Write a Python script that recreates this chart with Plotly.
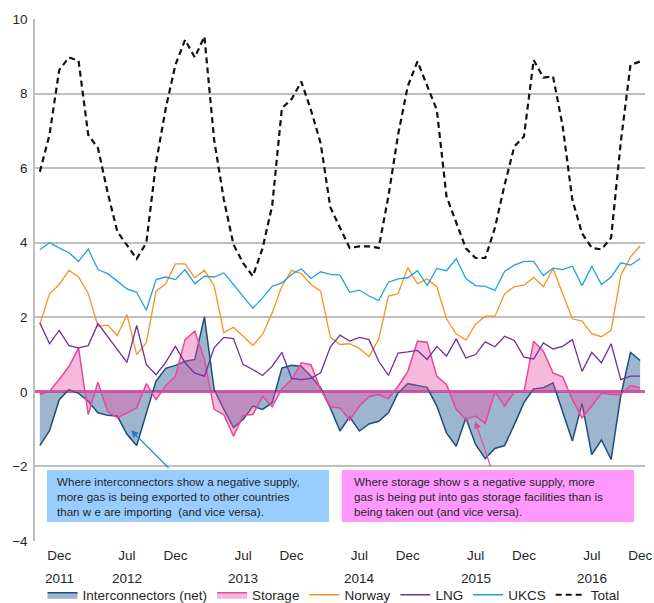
import pandas as pd
import plotly.graph_objects as go

months = [d.strftime("%b %Y") for d in pd.date_range("2011-10-01", "2016-12-01", freq="MS")]

interconnectors = [-1.44, -1.04, -0.21, 0.06, -0.04, -0.25, -0.56, -0.63, -0.65, -1.14,
                   -1.44, -0.56, 0.29, 0.63, 0.71, 0.82, 0.87, 2.01, 0.06, -0.47,
                   -0.96, -0.74, -0.38, -0.47, -0.29, 0.64, 0.71, 0.69, 0.42, 0.11,
                   -0.43, -1.05, -0.67, -1.05, -0.86, -0.79, -0.56, -0.03, 0.22, 0.17,
                   0.12, -0.38, -1.10, -1.46, -0.70, -1.41, -1.79, -1.52, -1.44, -0.88,
                   -0.29, 0.08, 0.11, 0.24, -0.56, -1.32, -0.31, -1.68, -1.29, -1.81,
                   -0.10, 1.06, 0.84]
storage = [-0.07, 0.02, 0.33, 0.68, 1.18, -0.61, 0.26, -0.52, -0.70, -0.56,
           -0.43, 0.22, -0.21, 0.17, 0.42, 1.40, 1.63, 0.87, -0.47, -0.61,
           -1.19, -0.63, -0.61, -0.12, -0.40, 0.08, 0.33, 0.78, 0.73, 0.06,
           -0.40, -0.43, -0.76, -0.38, -0.13, -0.07, -0.18, 0.15, 0.55, 1.36,
           1.33, 0.42, 0.20, -0.47, -0.74, -0.65, -0.85, 0.00, -0.38, 0.00,
           0.00, 1.36, 1.09, 0.51, 0.40, -0.21, -0.70, -0.38, -0.04, -0.07,
           -0.07, 0.17, 0.11]
norway = [1.81, 2.63, 2.88, 3.26, 3.08, 2.64, 1.76, 1.79, 1.51, 2.07,
          1.00, 1.32, 2.70, 2.90, 3.43, 3.43, 3.06, 3.26, 2.85, 1.59,
          1.73, 1.49, 1.25, 1.54, 2.12, 2.83, 3.26, 3.17, 2.88, 2.70,
          1.47, 1.27, 1.29, 1.16, 0.95, 1.41, 2.57, 2.63, 3.33, 2.90,
          3.03, 2.82, 1.96, 1.56, 1.39, 1.81, 2.03, 2.03, 2.63, 2.82,
          2.86, 3.07, 2.82, 3.30, 2.61, 1.96, 1.90, 1.56, 1.48, 1.65,
          3.12, 3.62, 3.92]
lng = [1.85, 1.29, 1.65, 1.24, 1.18, 1.24, 1.83, 1.49, 1.15, 0.79,
       1.78, 0.73, 0.46, 0.79, 1.22, 0.78, 0.50, 0.42, 1.18, 1.46,
       1.43, 0.73, 0.60, 0.44, 0.69, 1.06, 0.36, 0.33, 0.36, 0.51,
       1.20, 1.52, 1.36, 1.46, 1.40, 0.82, 0.44, 1.04, 1.07, 1.11,
       0.87, 1.22, 0.96, 1.42, 0.91, 1.00, 1.34, 1.21, 1.49, 1.38,
       0.93, 0.88, 1.31, 1.15, 1.22, 1.40, 0.55, 1.06, 0.78, 1.29,
       0.33, 0.42, 0.42]
ukcs = [3.81, 4.00, 3.86, 3.73, 3.50, 3.83, 3.28, 3.17, 2.97, 2.76,
        2.67, 2.19, 3.01, 3.08, 3.01, 3.28, 2.90, 3.10, 3.08, 3.19,
        2.88, 2.56, 2.24, 2.52, 2.83, 2.92, 3.15, 3.30, 3.04, 3.22,
        3.15, 3.13, 2.67, 2.73, 2.57, 2.45, 2.94, 3.03, 3.06, 3.25,
        2.85, 3.31, 3.25, 3.57, 3.04, 2.85, 2.83, 2.72, 3.23, 3.40,
        3.50, 3.50, 3.12, 3.32, 3.28, 3.37, 2.85, 3.37, 2.88, 3.08,
        3.46, 3.40, 3.57]
total = [5.90, 6.90, 8.63, 8.97, 8.88, 6.89, 6.54, 5.35, 4.30, 3.92,
         3.57, 4.00, 6.14, 7.60, 8.77, 9.44, 8.97, 9.53, 6.76, 5.16,
         3.95, 3.45, 3.10, 3.85, 5.00, 7.61, 7.85, 8.32, 7.56, 6.67,
         4.95, 4.40, 3.86, 3.90, 3.90, 3.86, 5.25, 6.90, 8.20, 8.86,
         8.23, 7.56, 5.24, 4.55, 3.85, 3.59, 3.59, 4.40, 5.55, 6.58,
         6.85, 8.90, 8.43, 8.46, 7.12, 5.15, 4.25, 3.86, 3.82, 4.13,
         6.70, 8.77, 8.86]

tick_months = ["Dec 2011", "Jul 2012", "Dec 2012", "Jul 2013", "Dec 2013", "Jul 2014",
               "Dec 2014", "Jul 2015", "Dec 2015", "Jul 2016", "Dec 2016"]
tick_text = ["Dec", "Jul", "Dec", "Jul", "Dec", "Jul", "Dec", "Jul", "Dec", "Jul", "Dec"]
year_positions = ["Dec 2011", "Jul 2012", "Jul 2013", "Jul 2014", "Jul 2015", "Jul 2016"]
year_labels = ["2011", "2012", "2013", "2014", "2015", "2016"]

FONT = "Liberation Sans, Arial, sans-serif"
TXT = "#262626"
FS = 13.5

fig = go.Figure()
fig.add_trace(go.Scatter(x=months, y=interconnectors, name="Interconnectors (net)", mode="lines",
                         line=dict(color="#1F4E79", width=1.5), fill="tozeroy",
                         fillcolor="rgba(60,110,160,0.5)"))
fig.add_trace(go.Scatter(x=months, y=storage, name="Storage", mode="lines",
                         line=dict(color="#E8489B", width=1.5), fill="tozeroy",
                         fillcolor="rgba(235,80,165,0.40)"))
fig.add_trace(go.Scatter(x=months, y=norway, name="Norway", mode="lines",
                         line=dict(color="#F7941D", width=1.3)))
fig.add_trace(go.Scatter(x=months, y=lng, name="LNG", mode="lines",
                         line=dict(color="#7030A0", width=1.3)))
fig.add_trace(go.Scatter(x=months, y=ukcs, name="UKCS", mode="lines",
                         line=dict(color="#1FA3DE", width=1.3)))
fig.add_trace(go.Scatter(x=months, y=total, name="Total", mode="lines",
                         line=dict(color="#111111", width=2.2, dash="6px,4px")))

# text boxes
fig.add_shape(type="rect", xref="paper", yref="paper", x0=0.0197, x1=0.482, y0=0.0364, y1=0.136,
              fillcolor="#99CCFF", line=dict(width=0), layer="above")
fig.add_shape(type="rect", xref="paper", yref="paper", x0=0.503, x1=0.982, y0=0.0364, y1=0.136,
              fillcolor="#FF99FF", line=dict(width=0), layer="above")

annotations = [
    dict(xref="paper", yref="paper", x=0.033, y=0.0862, xanchor="left", yanchor="middle",
         align="left", showarrow=False, font=dict(family=FONT, size=11.6, color=TXT),
         text="Where interconnectors show a negative supply,<br>more gas is being exported to other countries<br>than w e are importing  (and vice versa)."),
    dict(xref="paper", yref="paper", x=0.520, y=0.0862, xanchor="left", yanchor="middle",
         align="left", showarrow=False, font=dict(family=FONT, size=11.6, color=TXT),
         text="Where storage show s a negative supply, more<br>gas is being put into gas storage facilities than is<br>being taken out (and vice versa)."),
    dict(xref="x", yref="y", x=9.42, y=-1.03, ax=39, ay=39, text="", showarrow=True,
         arrowhead=2, arrowsize=1.2, arrowwidth=1.2, arrowcolor="#1F7FC8"),
    dict(xref="x", yref="y", x=44.96, y=-0.79, ax=16, ay=47, text="", showarrow=True,
         arrowhead=2, arrowsize=1.2, arrowwidth=1.2, arrowcolor="#E8489B"),
]
for pos, lab in zip(year_positions, year_labels):
    annotations.append(dict(xref="x", yref="paper", x=pos, y=-0.0709, yanchor="middle",
                            showarrow=False, text=lab, font=dict(family=FONT, size=FS, color=TXT)))

fig.update_layout(
    width=654, height=603,
    margin=dict(l=35, r=9, t=19, b=62, autoexpand=False),
    paper_bgcolor="white", plot_bgcolor="white",
    font=dict(family=FONT, size=FS, color=TXT),
    showlegend=True,
    legend=dict(orientation="h", x=0.51, xanchor="center", xref="container",
                y=0.039, yanchor="top", yref="container",
                font=dict(family=FONT, size=FS, color=TXT), itemwidth=30,
                traceorder="normal", bgcolor="rgba(0,0,0,0)", tracegroupgap=0),
    annotations=annotations,
    xaxis=dict(type="category", range=[-0.5, 62.5], tickmode="array", tickvals=tick_months,
               ticktext=tick_text, showgrid=False, zeroline=False, showline=False,
               ticks="outside", ticklen=2, tickcolor="rgba(0,0,0,0)", automargin=False,
               ticklabeloverflow="allow",
               tickfont=dict(family=FONT, size=FS, color=TXT)),
    yaxis=dict(range=[-4, 10], dtick=2, tick0=0, showgrid=True, gridcolor="#BFBFBF", gridwidth=1.5,
               showline=True, linecolor="#BFBFBF", linewidth=1.5, zeroline=True,
               zerolinecolor="#E0559F", zerolinewidth=2.5, ticks="outside", ticklen=3,
               tickcolor="rgba(0,0,0,0)", automargin=False,
               tickfont=dict(family=FONT, size=FS, color=TXT)),
)

# remove the default page margin so the 654x603 figure fills the window exactly
fig.write_html("out.html", config={"displayModeBar": False},
               post_script="document.body.style.margin='0px';document.body.style.overflow='hidden';")
